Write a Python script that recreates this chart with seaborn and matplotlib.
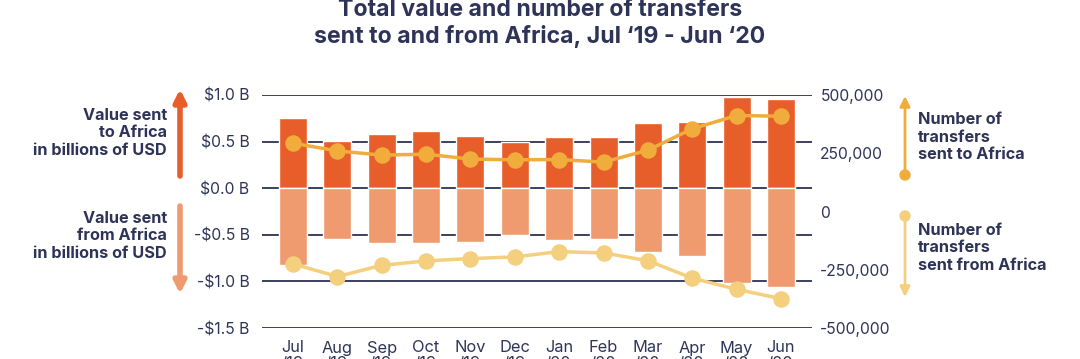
import matplotlib
matplotlib.use("Agg")
import matplotlib.pyplot as plt
import seaborn as sns
import pandas as pd

# data
months = ["Jul\n‘19", "Aug\n‘19", "Sep\n‘19", "Oct\n‘19", "Nov\n‘19", "Dec\n‘19",
          "Jan\n‘20", "Feb\n‘20", "Mar\n‘20", "Apr\n‘20", "May\n‘20", "Jun\n‘20"]
value_to_africa = [0.75, 0.51, 0.58, 0.61, 0.56, 0.50, 0.55, 0.55, 0.70, 0.71, 0.975, 0.96]
value_from_africa = [-0.82, -0.54, -0.59, -0.59, -0.575, -0.50, -0.56, -0.55, -0.68, -0.73, -1.015, -1.06]
count_to_africa = [293000, 260000, 242000, 246000, 225000, 222000, 223000, 212000, 263000, 355000, 412000, 409000]
count_from_africa = [-225000, -279000, -231000, -212000, -202000, -195000, -172000, -178000, -211000, -286000, -334000, -374000]

left_ticks = [1.0, 0.5, 0.0, -0.5, -1.0, -1.5]
left_labels = ["$1.0 B", "$0.5 B", "$0.0 B", "-$0.5 B", "-$1.0 B", "-$1.5 B"]
right_ticks = [500000, 250000, 0, -250000, -500000]
right_labels = ["500,000", "250,000", "0", "-250,000", "-500,000"]

NAVY = "#2E3458"
DARK_OR = "#E85E2A"
LIGHT_OR = "#EF9B6F"
GOLD = "#F0AD3C"
PALE = "#F3CF7E"

df = pd.DataFrame({"month": months, "to": value_to_africa, "from": value_from_africa,
                   "n_to": count_to_africa, "n_from": count_from_africa})

sns.set_style("white")
plt.rcParams["font.family"] = ["Inter", "DejaVu Sans"]

W, H = 1080, 359
fig = plt.figure(figsize=(W / 100, H / 100), dpi=100)
ax = fig.add_axes([262 / W, (H - 328) / H, 550 / W, 233 / H])

sns.barplot(data=df, x="month", y="to", color=DARK_OR, saturation=1, width=0.63, ax=ax)
sns.barplot(data=df, x="month", y="from", color=LIGHT_OR, saturation=1, width=0.63, ax=ax)

ax.set_ylim(-1.5, 1.0)
ax.set_yticks(left_ticks)
ax.set_yticklabels(left_labels)
ax.set_axisbelow(True)
ax.yaxis.grid(True, color="#3B405E", linewidth=1.4)
for s in ax.spines.values():
    s.set_visible(False)
ax.set_xlabel("")
ax.set_ylabel("")
ax.tick_params(axis="y", length=0, pad=9, labelsize=11.3, labelcolor=NAVY)
ax.tick_params(axis="x", length=0, pad=9, labelsize=11.8, labelcolor=NAVY)
for lab in ax.get_xticklabels():
    lab.set_linespacing(1.0)

ax2 = ax.twinx()
sns.pointplot(data=df, x="month", y="n_to", color=GOLD, markers="o", markersize=10,
              linewidth=2.5, ax=ax2)
sns.pointplot(data=df, x="month", y="n_from", color=PALE, markers="o", markersize=10,
              linewidth=2.5, ax=ax2)
ax2.set_ylim(-500000, 500000)
ax2.set_yticks(right_ticks)
ax2.set_yticklabels(right_labels)
ax2.tick_params(axis="y", length=0, pad=6, labelsize=11.3, labelcolor=NAVY)
ax2.set_ylabel("")
for s in ax2.spines.values():
    s.set_visible(False)
ax.set_xlim(-0.7, 11.7)
ax2.set_xlim(-0.7, 11.7)

# title
fig.text(0.5, 1 - 10 / H, "Total value and number of transfers", ha="center", va="center",
         fontsize=16.6, fontweight="bold", color=NAVY)
fig.text(0.5, 1 - 37 / H, "sent to and from Africa, Jul ‘19 - Jun ‘20", ha="center",
         va="center", fontsize=16.6, fontweight="bold", color=NAVY)


def px(x, y):
    return (x, H - y)


# left annotations
fig.text(167 / W, 1 - 133 / H, "Value sent\nto Africa\nin billions of USD", ha="right",
         va="center", fontsize=11.7, fontweight="bold", color=NAVY, linespacing=1.2)
fig.text(167 / W, 1 - 236 / H, "Value sent\nfrom Africa\nin billions of USD", ha="right",
         va="center", fontsize=11.7, fontweight="bold", color=NAVY, linespacing=1.2)
ax.annotate("", xy=px(180, 89), xytext=px(180, 176), xycoords="figure pixels",
            textcoords="figure pixels", annotation_clip=False,
            arrowprops=dict(arrowstyle="-|>,head_length=0.7,head_width=0.35", lw=4,
                            color=DARK_OR, shrinkA=0, shrinkB=0))
ax.annotate("", xy=px(180, 294), xytext=px(180, 206), xycoords="figure pixels",
            textcoords="figure pixels", annotation_clip=False,
            arrowprops=dict(arrowstyle="-|>,head_length=0.7,head_width=0.35", lw=4,
                            color=LIGHT_OR, shrinkA=0, shrinkB=0))

# right annotations
fig.text(918 / W, 1 - 137 / H, "Number of\ntransfers\nsent to Africa", ha="left",
         va="center", fontsize=11.7, fontweight="bold", color=NAVY, linespacing=1.2)
fig.text(918 / W, 1 - 248 / H, "Number of\ntransfers\nsent from Africa", ha="left",
         va="center", fontsize=11.7, fontweight="bold", color=NAVY, linespacing=1.2)
ax.annotate("", xy=px(905, 96), xytext=px(905, 175), xycoords="figure pixels",
            textcoords="figure pixels", annotation_clip=False,
            arrowprops=dict(arrowstyle="-|>,head_length=0.6,head_width=0.3", lw=2,
                            color=GOLD, shrinkA=0, shrinkB=0))
fig.add_artist(plt.Circle(px(905, 175), 5, transform=None, color=GOLD))
ax.annotate("", xy=px(905, 297), xytext=px(905, 216), xycoords="figure pixels",
            textcoords="figure pixels", annotation_clip=False,
            arrowprops=dict(arrowstyle="-|>,head_length=0.6,head_width=0.3", lw=2,
                            color=PALE, shrinkA=0, shrinkB=0))
fig.add_artist(plt.Circle(px(905, 216), 5, transform=None, color=PALE))

fig.savefig("out.png", dpi=100)
